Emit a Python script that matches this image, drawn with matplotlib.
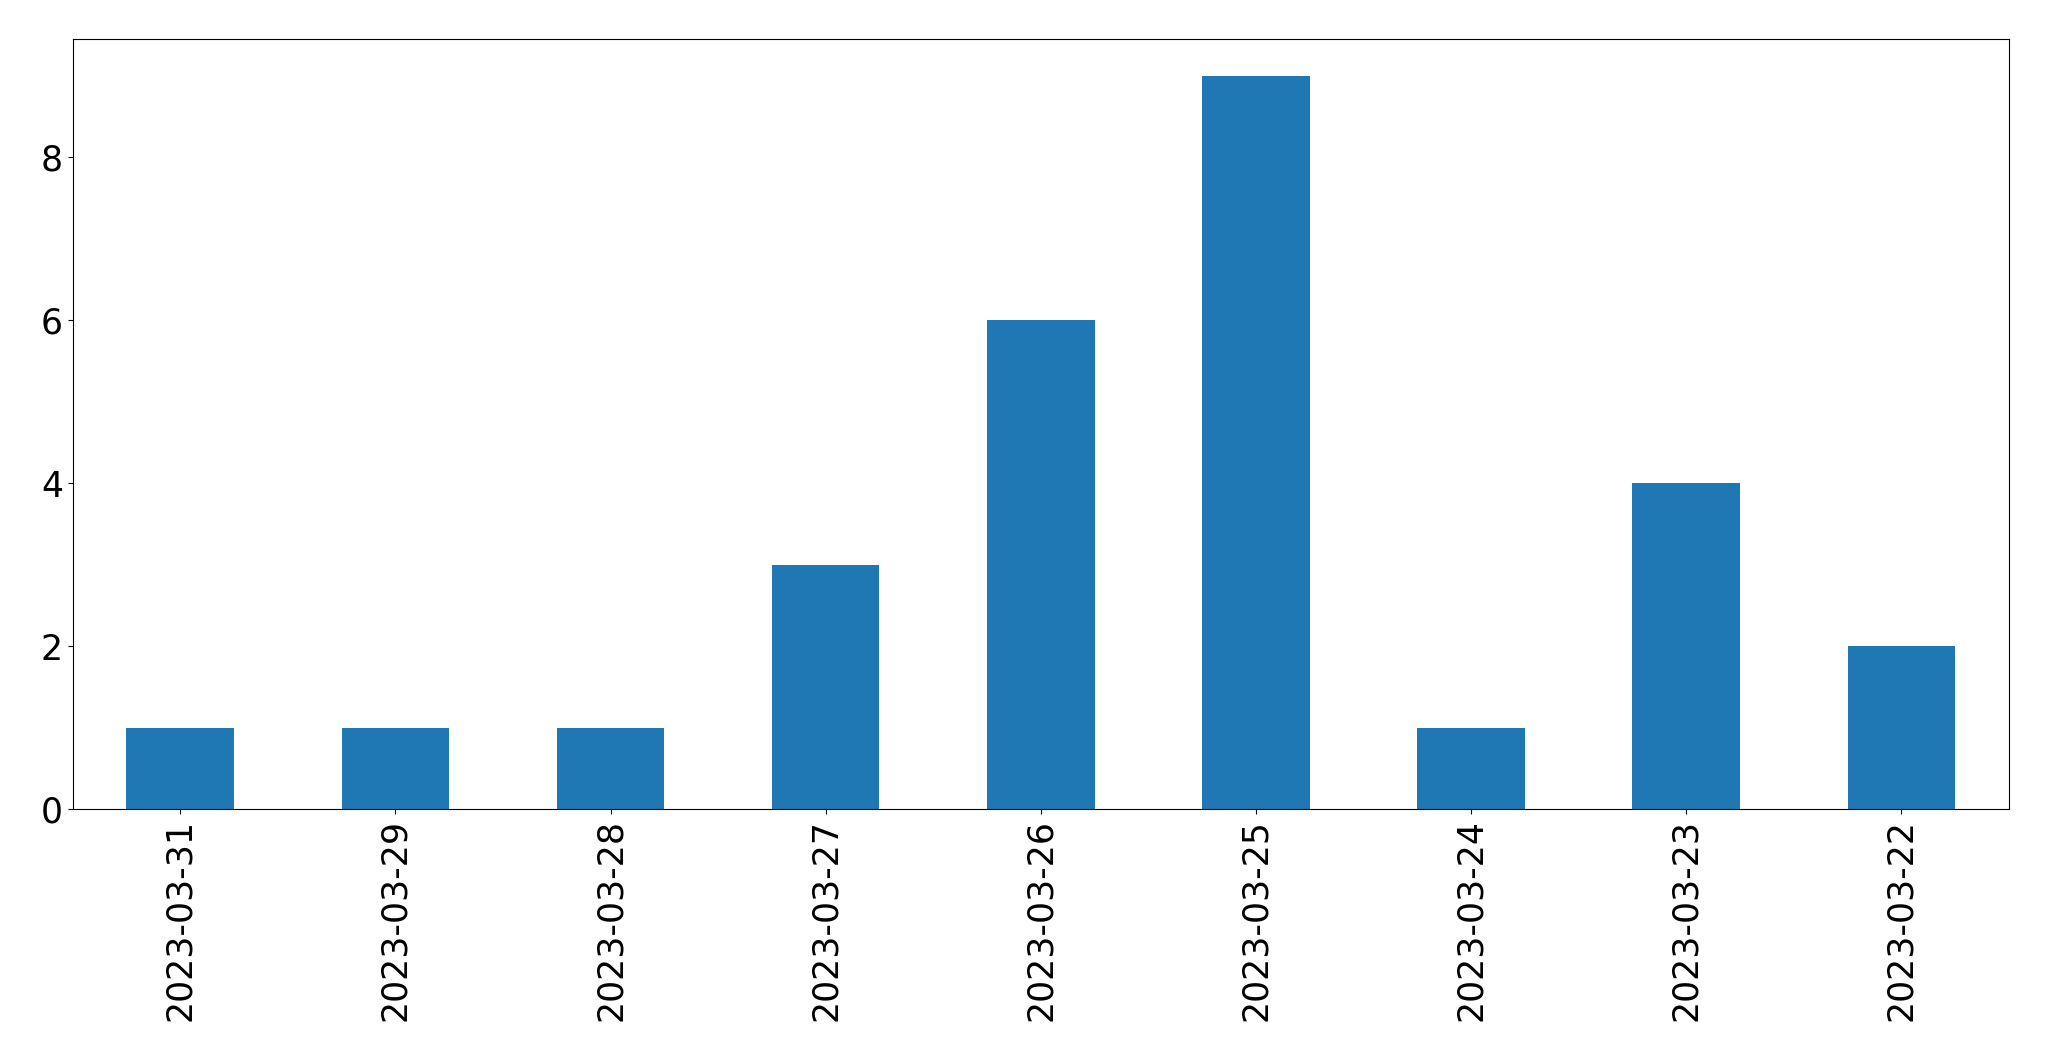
import matplotlib
matplotlib.use("Agg")
import matplotlib.pyplot as plt
import numpy as np

dates = ["2023-03-31", "2023-03-29", "2023-03-28", "2023-03-27", "2023-03-26",
         "2023-03-25", "2023-03-24", "2023-03-23", "2023-03-22"]
counts = [1, 1, 1, 3, 6, 9, 1, 4, 2]

fig = plt.figure(figsize=(20.49, 10.61), dpi=100)
ax = fig.add_axes([72.7 / 2049, 1 - 809 / 1061, (2009 - 72.7) / 2049, (809 - 39.3) / 1061])
x = np.arange(len(dates))
ax.bar(x, counts, width=0.5, color="#1f77b4")
ax.set_xlim(-0.5, len(dates) - 0.5)
ax.set_ylim(0, max(counts) * 1.05)
ax.set_xticks(x)
ax.set_xticklabels(dates, rotation=90)
ax.set_yticks([0, 2, 4, 6, 8])
ax.tick_params(labelsize=25)
fig.savefig("out.png", dpi=100)
